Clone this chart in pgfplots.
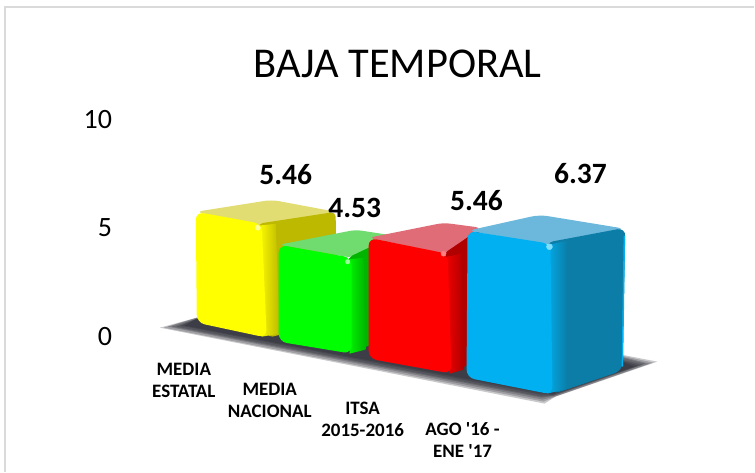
\documentclass[border=0pt]{standalone}
\usepackage{pgfplots}
\pgfplotsset{compat=1.18}
\usepackage{fontspec}
\setmainfont{Carlito}[Ligatures=TeXOff]
\definecolor{frame}{HTML}{DADADA}
\definecolor{shd}{HTML}{1E1E28}
\definecolor{yF}{HTML}{FFFF00}\definecolor{yS}{HTML}{BDB800}\definecolor{yT}{HTML}{E2DD72}\definecolor{yH}{HTML}{FFFF99}
\definecolor{gF}{HTML}{00FF00}\definecolor{gS}{HTML}{00B400}\definecolor{gT}{HTML}{70DC70}\definecolor{gH}{HTML}{99FF99}
\definecolor{rF}{HTML}{FF0000}\definecolor{rS}{HTML}{B00000}\definecolor{rT}{HTML}{E06C78}\definecolor{rH}{HTML}{FF8080}
\definecolor{bF}{HTML}{00B0F0}\definecolor{bS}{HTML}{0C7DA6}\definecolor{bT}{HTML}{6BB8DC}\definecolor{bH}{HTML}{80DFFF}
\tikzset{cat/.style={align=center, anchor=center, font=\fontsize{19}{22}\selectfont\bfseries, inner sep=0pt},
  tk/.style={anchor=center, font=\fontsize{28}{30}\selectfont, inner sep=0pt}}
\pgfplotsset{shadowlayer/.style={draw=none, fill=shd, opacity=.24}}
\begin{document}
\begin{tikzpicture}
\begin{axis}[
  scale only axis, width=755pt, height=472pt,
  xmin=0, xmax=755, ymin=0, ymax=472, y dir=reverse,
  hide axis, clip=false,
]
% canvas and frame (top and left edges only)
\addplot[draw=none, fill=white] coordinates {(0,0)(755,0)(755,472)(0,472)} --cycle;
\addplot[draw=frame, line width=1.5pt] coordinates {(755,7)(5,7)(5,472)};
% floor shadow
\addplot[shadowlayer] coordinates {(160,328)(197,318)(622,355)(658,362)(556,397)(545,404)} --cycle;
\addplot[shadowlayer] coordinates {(164,328)(197,318)(622,356)(654,363)(556,397)(544,402)} --cycle;
\addplot[shadowlayer] coordinates {(168,327)(197,318)(622,357)(650,364)(555,397)(543,400)} --cycle;
\addplot[shadowlayer] coordinates {(172,327)(197,319)(622,358)(646,364)(555,396)(542,398)} --cycle;
\addplot[shadowlayer] coordinates {(177,327)(197,319)(622,360)(643,365)(554,396)(542,397)} --cycle;
\addplot[shadowlayer] coordinates {(181,326)(197,319)(622,361)(639,366)(554,395)(541,395)} --cycle;
\addplot[shadowlayer] coordinates {(185,326)(197,319)(622,362)(635,367)(553,395)(540,393)} --cycle;
% yellow
\addplot[draw=none, fill=yT, rounded corners=7pt] coordinates {(196,212)(272,200)(336,212)(262,226)} --cycle;
\addplot[draw=none, fill=yS, rounded corners=5pt] coordinates {(258,224)(336,212)(337,322)(268,338)} --cycle;
\addplot[draw=none, left color=yF, right color=yS] coordinates {(258,226)(276,224)(280,334)(262,337)} --cycle;
\addplot[draw=none, fill=yF, rounded corners=8pt] coordinates {(196,212)(262,224)(267,338)(197,323)} --cycle;
\addplot[only marks, mark=*, mark size=2.6pt, color=yH] coordinates {(258,228)};
% green
\addplot[draw=none, fill=gT, rounded corners=6pt] coordinates {(279,245)(356,230)(395,236)(352,258)} --cycle;
\addplot[draw=none, fill=gS, rounded corners=5pt] coordinates {(348,258)(390,238)(390,336)(352,354)} --cycle;
\addplot[draw=none, left color=gF, right color=gS] coordinates {(346,260)(364,258)(366,350)(350,354)} --cycle;
\addplot[draw=none, fill=gF, rounded corners=8pt] coordinates {(279,245)(352,258)(352,354)(279,342)} --cycle;
\addplot[only marks, mark=*, mark size=2.3pt, color=gH] coordinates {(348,262)};
% red
\addplot[draw=none, fill=rT, rounded corners=6pt] coordinates {(369,238)(444,223)(482,228)(450,255)} --cycle;
\addplot[draw=none, fill=rS, rounded corners=5pt] coordinates {(444,254)(482,228)(482,356)(454,374)} --cycle;
\addplot[draw=none, left color=rF, right color=rS] coordinates {(442,258)(462,254)(464,370)(450,374)} --cycle;
\addplot[draw=none, fill=rF, rounded corners=8pt] coordinates {(369,238)(448,254)(452,374)(369,359)} --cycle;
\addplot[only marks, mark=*, mark size=2.5pt, color=rH] coordinates {(444,254)};
% blue
\addplot[draw=none, fill=bT, rounded corners=8pt] coordinates {(468,231)(540,215)(626,229)(551,245)} --cycle;
\addplot[draw=none, fill=bS, rounded corners=8pt] coordinates {(546,243)(626,228)(623,371)(552,395)} --cycle;
\addplot[draw=bF, line width=1.5pt] coordinates {(625,236)(623,367)};
\addplot[draw=none, left color=bF, right color=bS] coordinates {(545,246)(568,241)(568,389)(548,394)} --cycle;
\addplot[draw=none, fill=bF, rounded corners=8pt] coordinates {(468,231)(551,244)(553,395)(467,378)} --cycle;
\addplot[only marks, mark=*, mark size=3pt, color=bH] coordinates {(550,247)};
% data labels
\addplot[only marks, mark=none, point meta=explicit symbolic,
  nodes near coords, nodes near coords align={center},
  every node near coord/.append style={font=\fontsize{29.5}{32}\selectfont\bfseries, text=black, anchor=center, inner sep=0pt}]
  table[meta=v] {
x y v
286 175 5.46
355 208 4.53
477 201 5.46
581 174 6.37
};
% title, tick labels, category labels
\node[anchor=center, font=\fontsize{42.5}{46}\selectfont, inner sep=0pt] at (axis cs:398,64) {BAJA TEMPORAL};
\node[tk] at (axis cs:98,120) {10};
\node[tk] at (axis cs:105,228) {5};
\node[tk] at (axis cs:105,337) {0};
\node[cat] at (axis cs:184,381) {MEDIA\\ESTATAL};
\node[cat] at (axis cs:270,401) {MEDIA\\NACIONAL};
\node[cat] at (axis cs:363,420) {ITSA\\2015-2016};
\node[cat] at (axis cs:463,440) {AGO '16 -\\ENE '17};
\end{axis}
\end{tikzpicture}
\end{document}
